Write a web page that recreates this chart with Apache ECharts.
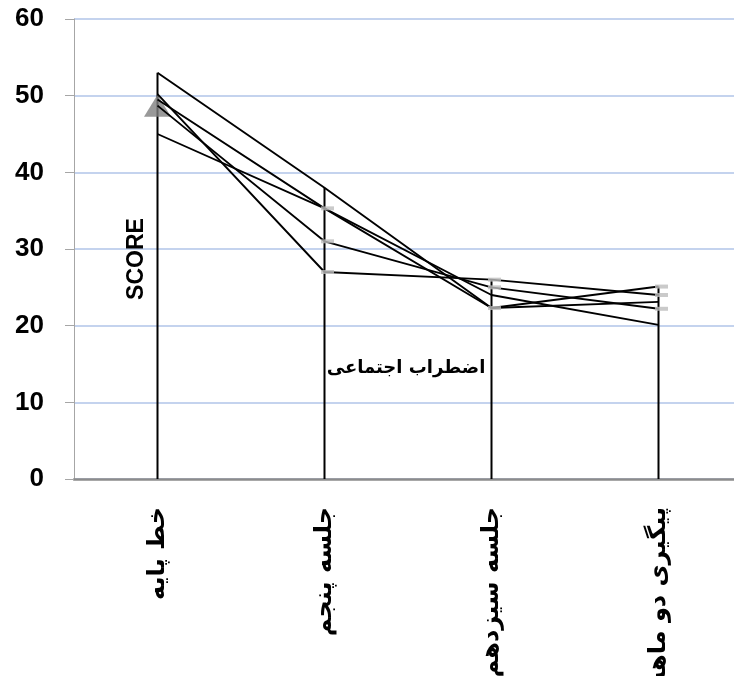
<!DOCTYPE html>
<html>
<head>
<meta charset="utf-8">
<script src="https://cdn.jsdelivr.net/npm/echarts@6/dist/echarts.min.js"></script>
<style>html,body{margin:0;padding:0;background:#fff;overflow:hidden;}#c{width:734px;height:676px;}</style>
</head>
<body>
<div id="c"></div>
<script>
// ---- data ----
const categories = ['خط پایه', 'جلسه پنجم', 'جلسه سیزدهم', 'پیگیری دو ماهه'];
const seriesA = [53, 38, 22.3, 23.1];
const seriesB = [49.5, 35.3, 24, 20.1];
const seriesC = [48.7, 31, 25, 22.2];
const seriesD = [50.2, 27, 26, 24];
const seriesE = [45, 35.3, 22.3, 25.1];
const yTicks = [0, 10, 20, 30, 40, 50, 60];
const yAxisTitle = 'SCORE';
const chartNote = 'اضطراب اجتماعی';

const allSeries = [seriesA, seriesB, seriesC, seriesD, seriesE];
const highs = categories.map((_, i) => Math.max(...allSeries.map(s => s[i])));

// dash markers for series C, D, E after the baseline
const dashPts = [];
[seriesC, seriesD, seriesE].forEach((s) => {
  s.forEach((v, i) => {
    if (i === 0) return;
    dashPts.push([i, v]);
  });
});
const trianglePts = [[0, seriesC[0]]];

const chart = echarts.init(document.getElementById('c'), null, {renderer: 'canvas'});
const lineStyle = {color: '#000', width: 1.9};
const mkLine = (d) => ({
  type: 'line', data: d, symbol: 'none', z: 5,
  lineStyle: lineStyle, itemStyle: {color: '#000'}, silent: true, animation: false
});

chart.setOption({
  animation: false,
  grid: {left: 74, top: 19, right: -8, bottom: 197, containLabel: false, outerBoundsMode: 'none'},
  xAxis: {
    type: 'category',
    data: categories,
    boundaryGap: true,
    axisLine: {show: true, lineStyle: {color: '#8c8c8c', width: 2.5}},
    axisTick: {show: false},
    axisLabel: {
      rotate: 90, margin: 28, color: '#000',
      fontFamily: 'DejaVu Sans', fontWeight: 'bold', fontSize: 24
    },
    splitLine: {show: false}
  },
  yAxis: {
    type: 'value', min: 0, max: 60, interval: 10,
    axisLine: {show: true, lineStyle: {color: '#a6a6a6', width: 1}},
    axisTick: {show: true, inside: false, length: 9, lineStyle: {color: '#a6a6a6'}},
    axisLabel: {
      margin: 30, color: '#000', fontFamily: 'Liberation Sans', fontWeight: 'bold', fontSize: 26,
      formatter: v => yTicks.includes(v) ? String(v) : ''
    },
    splitLine: {show: true, lineStyle: {color: '#b0c4e8', width: 1.5}}
  },
  graphic: [
    {
      type: 'text', x: 137, y: 259, rotation: Math.PI / 2, z: 10,
      style: {text: yAxisTitle, fill: '#000', font: 'bold 23px "Liberation Sans"', textAlign: 'center', textVerticalAlign: 'middle'}
    },
    {
      type: 'text', x: 406, y: 368, z: 10,
      style: {text: chartNote, fill: '#000', font: 'bold 18px "DejaVu Sans"', textAlign: 'center', textVerticalAlign: 'middle'}
    }
  ],
  series: [
    {
      type: 'bar', data: highs, barWidth: 2, z: 2,
      itemStyle: {color: '#000'}, silent: true
    },
    {
      type: 'scatter', data: trianglePts, symbol: 'triangle', symbolSize: [27, 22], z: 3,
      itemStyle: {color: '#7f7f7f'}, silent: true
    },
    {
      type: 'scatter', data: dashPts, symbol: 'rect', symbolSize: [13, 4], symbolOffset: [3, 0], z: 6,
      itemStyle: {color: '#bdbdbd'}, silent: true
    },
    mkLine(seriesA), mkLine(seriesB), mkLine(seriesC), mkLine(seriesD), mkLine(seriesE)
  ]
});
</script>
</body>
</html>
